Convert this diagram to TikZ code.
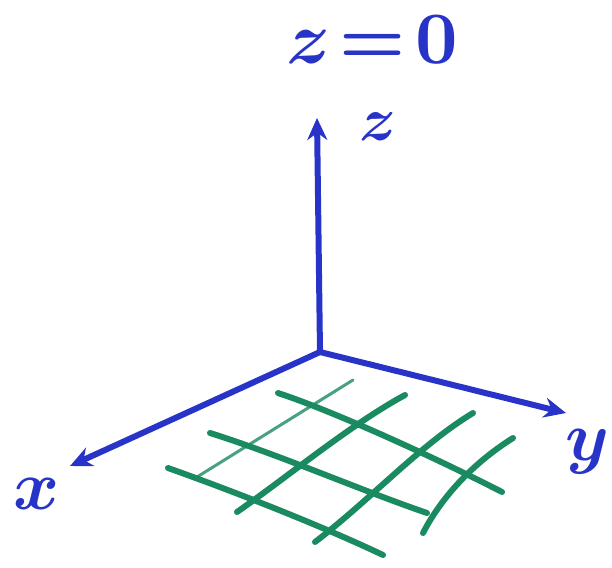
\documentclass[tikz,border=0pt]{standalone}
\usepackage{amsmath}
\usetikzlibrary{arrows.meta}
\definecolor{penblue}{RGB}{40,52,200}
\definecolor{pengreen}{RGB}{26,138,96}

\begin{document}
\begin{tikzpicture}[x=1pt,y=-1pt,
    axis/.style={penblue,line width=6pt,line cap=round,-{Stealth[length=22pt,width=20pt]}},
    gridline/.style={pengreen,line width=6pt,line cap=round},
    lbl/.style={penblue,inner sep=0pt,font=\boldmath}]
				\useasboundingbox (0,0) rectangle (612,567);
				% axes
				\coordinate (o) at (320,352);
				\coordinate (zend) at (317,118);
				\coordinate (yend) at (566,413);
				\coordinate (xend) at (70,466);
				\draw[axis] (o) -- (zend);
				\draw[axis] (o) -- (yend);
				\draw[axis] (o) -- (xend);
				% labels
				\node[lbl,scale=7.4] (title) at (372,40) {$z\!=\!0$};
				\node[lbl,scale=6.2] (zlab) at (378,127) {$z$};
				\node[lbl,scale=7] (xlab) at (37,494) {$x$};
				\node[lbl,scale=7] (ylab) at (587,452) {$y$};
				% the grid on the plane z=0
				\draw[gridline] (278,393) .. controls (330,410) and (430,455) .. (502,492);
				\draw[gridline] (210,433) .. controls (280,455) and (360,490) .. (427,513);
				\draw[gridline] (168,468) .. controls (230,490) and (320,525) .. (383,555);
				\draw[gridline,line width=3pt,opacity=0.8] (197,477) -- (353,380);
				\draw[gridline] (237,512) .. controls (290,475) and (350,425) .. (405,395);
				\draw[gridline] (315,542) .. controls (370,500) and (420,445) .. (473,413);
				\draw[gridline] (423,533) .. controls (440,500) and (470,465) .. (513,438);
			\end{tikzpicture}
\end{document}
